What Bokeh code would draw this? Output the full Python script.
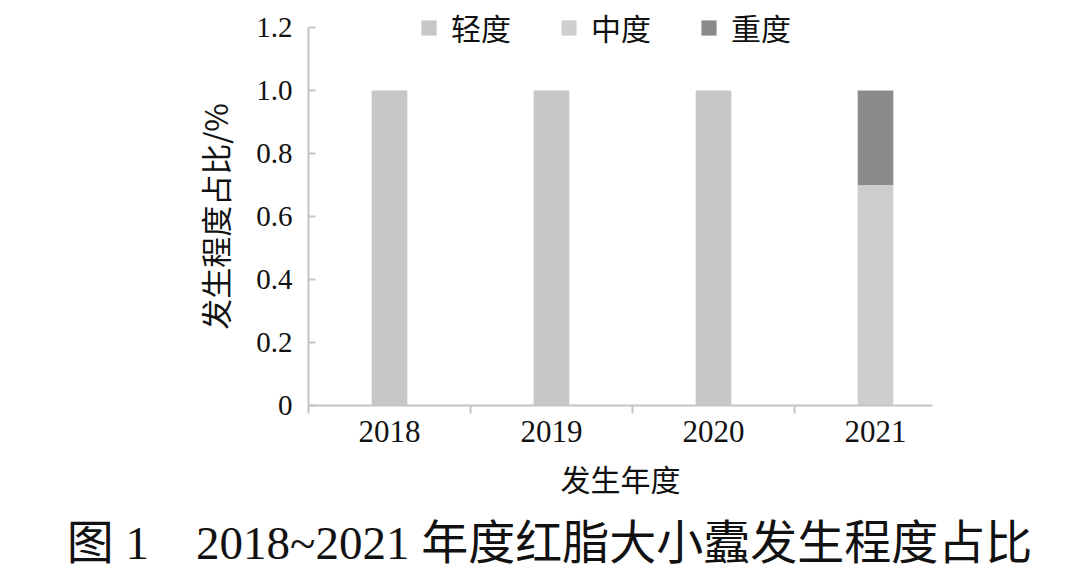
from bokeh.plotting import figure
from bokeh.models import Range1d, FixedTicker, Legend, Label, PrintfTickFormatter
from bokeh.embed import file_html
from bokeh.resources import INLINE

years = [2018, 2019, 2020, 2021]
mild = [1.0, 1.0, 1.0, 0.0]        # 轻度
moderate = [0.0, 0.0, 0.0, 0.7]    # 中度
severe = [0.0, 0.0, 0.0, 0.3]      # 重度
series = ["轻度", "中度", "重度"]
y_ticks = [0, 0.2, 0.4, 0.6, 0.8, 1.0, 1.2]
x_bounds = [2017.5, 2018.5, 2019.5, 2020.5]
caption = "图 1\u00a0\u00a0\u00a0\u00a02018~2021\u00a0年度红脂大小蠹发生程度占比"

colors = ["#c6c6c6", "#cecece", "#8a8a8a"]
SERIF = "Liberation Serif"
CJK = "Noto Sans CJK SC"
MIXED = "Liberation Serif, 'Noto Sans CJK SC'"

src = dict(year=years, **{series[0]: mild, series[1]: moderate, series[2]: severe})

# the frame fills the whole canvas; axes are pinned at the data origin
p = figure(width=1066, height=579, output_backend="svg", toolbar_location=None,
           x_range=Range1d(2015.599, 2022.179), y_range=Range1d(-0.5524, 1.2857),
           min_border_left=0, min_border_right=0, min_border_top=0, min_border_bottom=0)
p.outline_line_color = None
p.grid.visible = False
p.background_fill_color = "white"

rs = p.vbar_stack(series, x="year", width=0.22, source=src, color=colors, line_color=None)

legend = Legend(items=[(s, [r]) for s, r in zip(series, rs)], orientation="horizontal",
                location=(419, 530), background_fill_alpha=0, border_line_color=None,
                padding=0, margin=0, spacing=48, label_standoff=13,
                glyph_width=19, glyph_height=19,
                label_text_font=CJK, label_text_font_size="30px", label_text_color="#111111")
p.add_layout(legend, "center")

ax = p.yaxis[0]
ax.fixed_location = x_bounds[0]
ax.ticker = FixedTicker(ticks=y_ticks)
ax.bounds = (0, 1.2)
ax.formatter = PrintfTickFormatter(format="%.1f")
ax.major_label_overrides = {0: "0"}
ax.axis_line_color = "#c4c4c4"
ax.axis_line_width = 2
ax.major_tick_line_color = "#c4c4c4"
ax.major_tick_line_width = 2
ax.major_tick_in = 7
ax.major_tick_out = 0
ax.minor_tick_line_color = None
ax.major_label_text_font = SERIF
ax.major_label_text_font_size = "29px"
ax.major_label_text_color = "#111111"
ax.major_label_standoff = 16
ax.axis_label = "发生程度占比/%"
ax.axis_label_text_font = CJK
ax.axis_label_text_font_size = "31px"
ax.axis_label_text_font_style = "normal"
ax.axis_label_text_color = "#111111"
ax.axis_label_standoff = 16

bx = p.xaxis[0]
bx.fixed_location = 0
bx.bounds = (2017.5, 2021.35)
bx.ticker = FixedTicker(ticks=years, minor_ticks=x_bounds)
bx.axis_line_color = "#c4c4c4"
bx.axis_line_width = 2
bx.major_tick_line_color = None
bx.minor_tick_line_color = "#c4c4c4"
bx.minor_tick_line_width = 2
bx.minor_tick_in = 0
bx.minor_tick_out = 8
bx.major_label_text_font = SERIF
bx.major_label_text_font_size = "31px"
bx.major_label_text_color = "#111111"
bx.major_label_standoff = 8
bx.axis_label = "发生年度"
bx.axis_label_text_font = MIXED
bx.axis_label_text_font_size = "30px"
bx.axis_label_text_font_style = "normal"
bx.axis_label_text_color = "#111111"
bx.axis_label_standoff = 18

cap = Label(x=549, y=37, x_units="screen", y_units="screen", text=caption,
            text_font=MIXED, text_font_size="47px", text_align="center",
            text_baseline="middle", text_color="#111111")
p.add_layout(cap)

open("out.html", "w").write(file_html(p, INLINE))
